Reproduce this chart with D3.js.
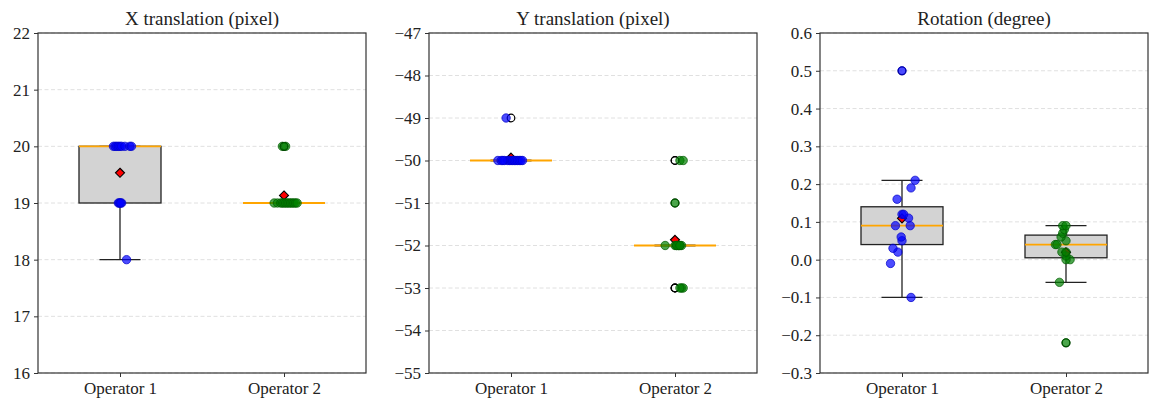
<!DOCTYPE html>
<html>
<head>
<meta charset="utf-8">
<script src="https://cdn.jsdelivr.net/npm/d3@7"></script>
<style>
    body { margin: 0; background: #fff; }
    text { font-family: "Liberation Serif", "DejaVu Serif", serif; fill: #222; }
</style>
</head>
<body>
<svg id="chart" width="1158" height="409"></svg>
<script>
// operators on the x axis
var operators = ["Operator 1", "Operator 2"];

// measured values per operator (15 runs each)
var x_op1 = [18, 19, 19, 19, 19, 19, 20, 20, 20, 20, 20, 20, 20, 20, 20];
var x_op2 = [19, 19, 19, 19, 19, 19, 19, 19, 19, 19, 19, 19, 19, 20, 20];
var y_op1 = [-49, -50, -50, -50, -50, -50, -50, -50, -50, -50, -50, -50, -50, -50, -50];
var y_op2 = [-50, -50, -51, -52, -52, -52, -52, -52, -52, -52, -52, -52, -53, -53, -53];
var r_op1 = [-0.1, -0.01, 0.02, 0.03, 0.05, 0.06, 0.09, 0.09, 0.11, 0.12, 0.12, 0.16, 0.19, 0.21, 0.5];
var r_op2 = [-0.22, -0.06, 0.0, 0.0, 0.01, 0.02, 0.02, 0.04, 0.04, 0.05, 0.06, 0.07, 0.08, 0.09, 0.09];

// horizontal jitter of each dot (in category units)
var x_jit1 = [0.04, -0.01, 0.0, 0.01, -0.005, 0.005, -0.04, -0.03, -0.02, -0.01, 0.0, 0.01, 0.03, 0.06, 0.07];
var x_jit2 = [-0.06, -0.04, -0.02, -0.01, 0.0, 0.01, 0.02, 0.03, 0.04, 0.05, 0.06, 0.07, 0.08, -0.01, 0.01];
var y_jit1 = [-0.03, -0.08, -0.06, -0.04, -0.02, -0.01, 0.0, 0.01, 0.02, 0.03, 0.04, 0.05, 0.06, 0.07, -0.05];
var y_jit2 = [0.03, 0.05, 0.0, -0.06, 0.0, 0.01, 0.02, 0.03, 0.04, 0.02, 0.01, 0.03, 0.04, 0.05, 0.03];
var r_jit1 = [0.055, -0.07, -0.025, -0.055, 0.0, -0.005, -0.04, 0.05, 0.04, 0.0, 0.01, -0.03, 0.055, 0.08, 0.0];
var r_jit2 = [0.0, -0.04, 0.025, 0.0, 0.0, -0.025, 0.0, -0.065, -0.055, 0.0, -0.03, -0.02, -0.01, -0.02, 0.0];

// y tick values per panel
var x_ticks = [16, 17, 18, 19, 20, 21, 22];
var y_ticks = [-55, -54, -53, -52, -51, -50, -49, -48, -47];
var r_ticks = [-0.3, -0.2, -0.1, 0.0, 0.1, 0.2, 0.3, 0.4, 0.5, 0.6];

var panels = [
    {title: "X translation (pixel)", data: [x_op1, x_op2], jitter: [x_jit1, x_jit2],
     ticks: x_ticks, fmt: d3.format("d")},
    {title: "Y translation (pixel)", data: [y_op1, y_op2], jitter: [y_jit1, y_jit2],
     ticks: y_ticks, fmt: d3.format("d")},
    {title: "Rotation (degree)", data: [r_op1, r_op2], jitter: [r_jit1, r_jit2],
     ticks: r_ticks, fmt: d3.format(".1f")}
];

var dot_fill = ["#0000ff", "#008000"];
var dot_edge = ["#0000c8", "#005a00"];

var panel_left = [38, 429, 820];
var panel_w = 328;
var plot_top = 33, plot_bottom = 373;
var serif = "Liberation Serif, DejaVu Serif, serif";

var svg = d3.select("#chart");

/**
 * Box statistics like matplotlib: linear quartiles, 1.5 IQR whiskers.
 */
function box_stats(values) {
    var s = values.slice().sort(d3.ascending);
    var q1 = d3.quantileSorted(s, 0.25);
    var med = d3.quantileSorted(s, 0.5);
    var q3 = d3.quantileSorted(s, 0.75);
    var iqr = q3 - q1;
    var lo = d3.min(s.filter(function(v) { return v >= q1 - 1.5 * iqr - 1e-9; }));
    var hi = d3.max(s.filter(function(v) { return v <= q3 + 1.5 * iqr + 1e-9; }));
    var fliers = s.filter(function(v) { return v < lo || v > hi; });
    return {q1: q1, med: med, q3: q3, lo: lo, hi: hi, mean: d3.mean(s), fliers: fliers};
}

panels.forEach(function(p, pi) {
    var x0 = panel_left[pi];
    var g = svg.append("g");

    var x = d3.scaleLinear().domain([0.5, 2.5]).range([x0, x0 + panel_w]);
    var y = d3.scaleLinear()
        .domain([p.ticks[0], p.ticks[p.ticks.length - 1]])
        .range([plot_bottom, plot_top]);

    // grid
    g.selectAll("line.grid")
        .data(p.ticks)
        .enter()
        .append("line")
        .attr("x1", x0).attr("x2", x0 + panel_w)
        .attr("y1", function(d) { return y(d); })
        .attr("y2", function(d) { return y(d); })
        .attr("stroke", "#dcdcdc")
        .attr("stroke-width", 0.9)
        .attr("stroke-dasharray", "4,2.5");

    // axes
    var yAxis = d3.axisLeft(y).tickValues(p.ticks)
        .tickFormat(function(d) { return p.fmt(d).replace("-", "\u2212"); })
        .tickSize(4).tickPadding(4);
    var ya = g.append("g").attr("transform", "translate(" + x0 + ",0)").call(yAxis);
    ya.select(".domain").remove();
    ya.selectAll("line").attr("stroke", "#333");
    ya.selectAll("text")
        .style("font-family", serif)
        .style("font-size", "17px")
        .attr("fill", "#222");

    var xAxis = d3.axisBottom(x).tickValues([1, 2])
        .tickFormat(function(d) { return operators[d - 1]; })
        .tickSize(4).tickPadding(5);
    var xa = g.append("g").attr("transform", "translate(0," + plot_bottom + ")").call(xAxis);
    xa.select(".domain").remove();
    xa.selectAll("line").attr("stroke", "#333");
    xa.selectAll("text")
        .style("font-family", serif)
        .style("font-size", "17px")
        .attr("fill", "#222");

    // boxes
    p.data.forEach(function(vals, k) {
        var st = box_stats(vals);
        var cx = x(k + 1);
        var bw = x(k + 1.25) - x(k + 1);
        var cw = x(k + 1.125) - x(k + 1);
        var bg = g.append("g");

        bg.append("line")
            .attr("x1", cx).attr("x2", cx)
            .attr("y1", y(st.q1)).attr("y2", y(st.lo))
            .attr("stroke", "#222").attr("stroke-width", 1.3);
        bg.append("line")
            .attr("x1", cx).attr("x2", cx)
            .attr("y1", y(st.q3)).attr("y2", y(st.hi))
            .attr("stroke", "#222").attr("stroke-width", 1.3);
        [st.lo, st.hi].forEach(function(v) {
            bg.append("line")
                .attr("x1", cx - cw).attr("x2", cx + cw)
                .attr("y1", y(v)).attr("y2", y(v))
                .attr("stroke", "#222").attr("stroke-width", 1.3);
        });
        bg.append("rect")
            .attr("x", cx - bw).attr("width", 2 * bw)
            .attr("y", y(st.q3)).attr("height", y(st.q1) - y(st.q3))
            .attr("fill", "#d3d3d3")
            .attr("stroke", "#222").attr("stroke-width", 1.3);
        bg.append("line")
            .attr("x1", cx - bw).attr("x2", cx + bw)
            .attr("y1", y(st.med)).attr("y2", y(st.med))
            .attr("stroke", "#ffa500").attr("stroke-width", 1.8);

        // fliers
        bg.selectAll("circle.flier")
            .data(st.fliers)
            .enter()
            .append("circle")
            .attr("cx", cx)
            .attr("cy", function(d) { return y(d); })
            .attr("r", 3.8)
            .attr("fill", "none")
            .attr("stroke", "#000")
            .attr("stroke-width", 1.2);

        // mean diamond
        bg.append("path")
            .attr("d", d3.symbol().type(d3.symbolDiamond2).size(52))
            .attr("transform", "translate(" + cx + "," + y(st.mean) + ")")
            .attr("fill", "#ff0000")
            .attr("stroke", "#000")
            .attr("stroke-width", 1.1);
    });

    // jittered dots on top
    p.data.forEach(function(vals, k) {
        var jit = p.jitter[k];
        g.selectAll("circle.dot" + k)
            .data(vals)
            .enter()
            .append("circle")
            .attr("cx", function(d, i) { return x(k + 1 + jit[i]); })
            .attr("cy", function(d) { return y(d); })
            .attr("r", 4.2)
            .attr("fill", dot_fill[k])
            .attr("fill-opacity", 0.7)
            .attr("stroke", dot_edge[k])
            .attr("stroke-opacity", 0.7)
            .attr("stroke-width", 1);
    });

    // frame
    g.append("rect")
        .attr("x", x0).attr("y", plot_top)
        .attr("width", panel_w).attr("height", plot_bottom - plot_top)
        .attr("fill", "none")
        .attr("stroke", "#333")
        .attr("stroke-width", 1.2);

    // title
    g.append("text")
        .attr("x", x0 + panel_w / 2)
        .attr("y", plot_top - 8)
        .attr("text-anchor", "middle")
        .style("font-family", serif)
        .style("font-size", "19px")
        .text(p.title);
});
</script>
</body>
</html>
